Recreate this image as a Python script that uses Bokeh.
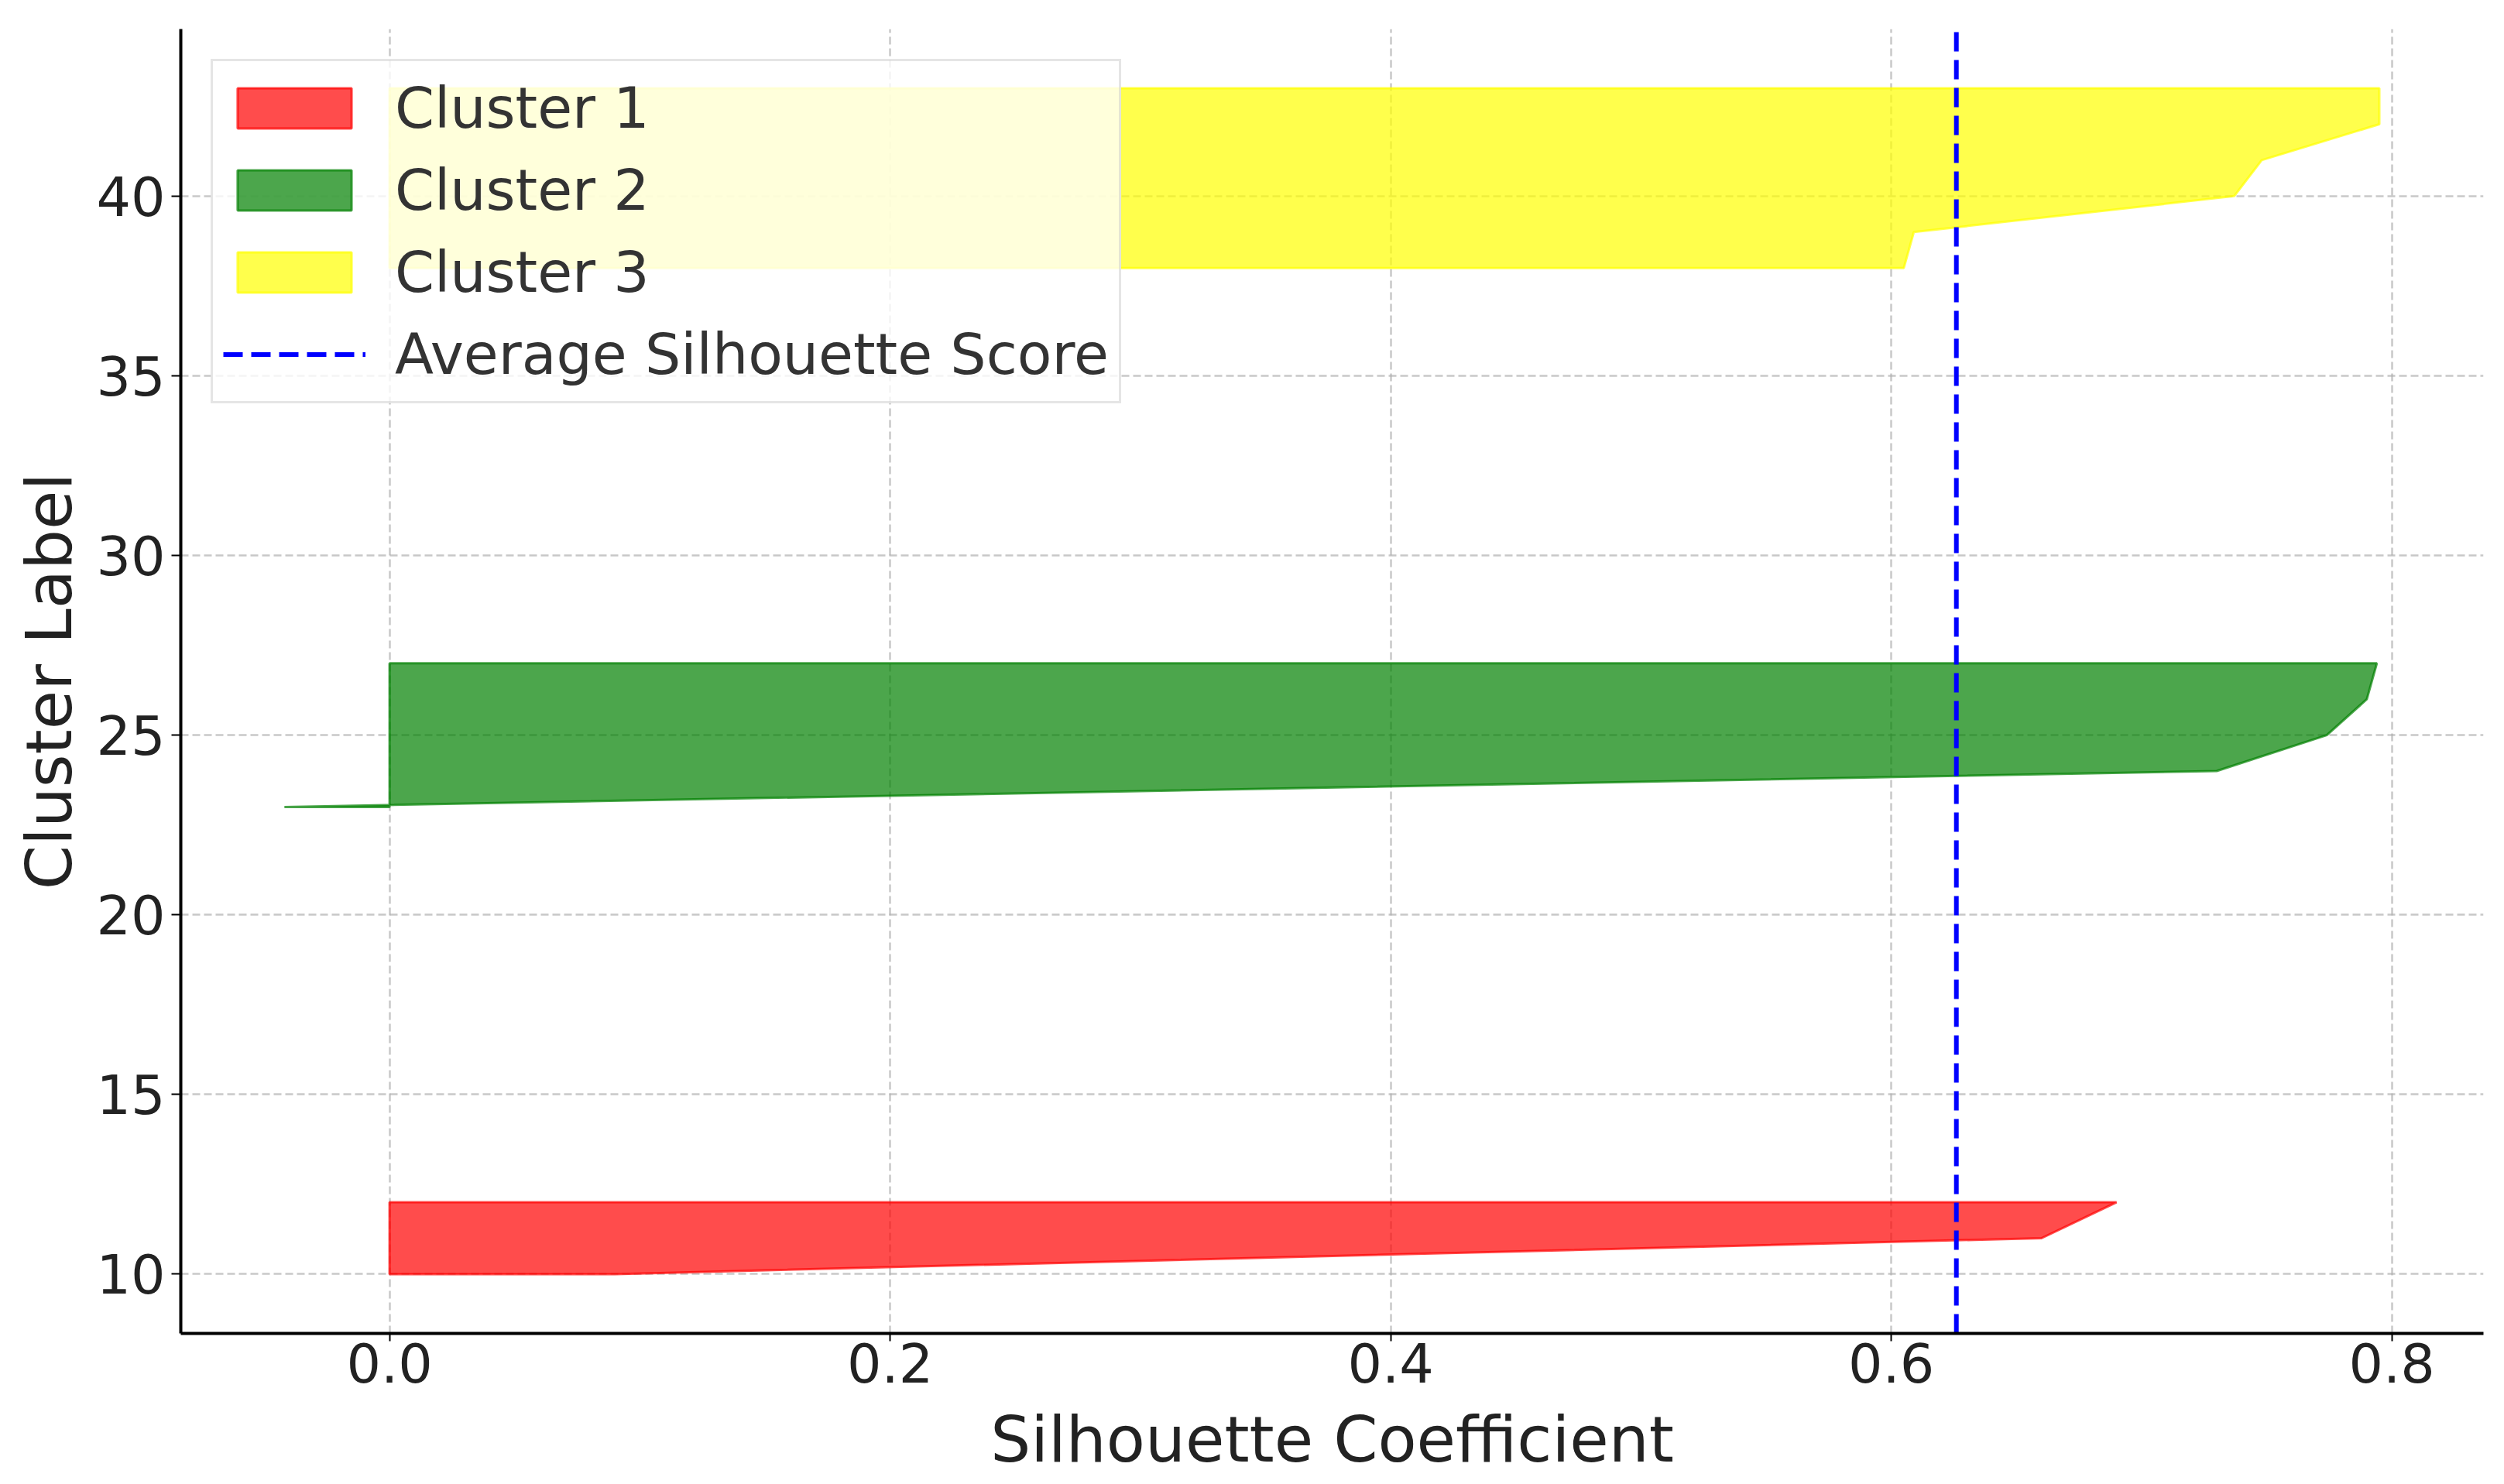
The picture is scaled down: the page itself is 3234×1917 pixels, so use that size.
from bokeh.plotting import figure
from bokeh.models import Range1d, FixedTicker, Legend, LegendItem, NumeralTickFormatter
from bokeh.embed import file_html
from bokeh.resources import INLINE

# ---- data ----
cluster_names = ["Cluster 1", "Cluster 2", "Cluster 3"]
cluster_colors = ["red", "green", "yellow"]
cluster1_y = [10, 11, 12]
cluster1_s = [0.09, 0.66, 0.69]
cluster2_y = [23, 24, 25, 26, 27]
cluster2_s = [-0.042, 0.730, 0.774, 0.790, 0.794]
cluster3_y = [38, 39, 40, 41, 42, 43]
cluster3_s = [0.605, 0.609, 0.737, 0.748, 0.795, 0.795]
avg_score = 0.626
x_ticks = [0.0, 0.2, 0.4, 0.6, 0.8]
y_ticks = [10, 15, 20, 25, 30, 35, 40]
x_label = "Silhouette Coefficient"
y_label = "Cluster Label"
avg_label = "Average Silhouette Score"

FONT = "DejaVu Sans"
x_lo, x_hi = -0.0834, 0.8366
y_lo, y_hi = 8.35, 44.65

p = figure(
    frame_width=2974, frame_height=1685,
    min_border_left=233, min_border_right=27, min_border_top=37, min_border_bottom=195,
    x_range=Range1d(x_lo, x_hi), y_range=Range1d(y_lo, y_hi),
    output_backend="svg", toolbar_location=None,
)
p.outline_line_color = None
p.background_fill_color = "white"

# axes
for ax in (p.xaxis[0], p.yaxis[0]):
    ax.axis_line_color = "black"
    ax.axis_line_width = 4
    ax.major_tick_line_color = "black"
    ax.major_tick_line_width = 2
    ax.major_tick_in = 0
    ax.minor_tick_line_color = None
    ax.major_label_text_font = FONT
    ax.major_label_text_font_size = "70px"
    ax.major_label_text_color = "#222222"
    ax.axis_label_text_font = FONT
    ax.axis_label_text_font_size = "82px"
    ax.axis_label_text_font_style = "normal"
    ax.axis_label_text_color = "#222222"

p.xaxis.ticker = FixedTicker(ticks=x_ticks)
p.xaxis.formatter = NumeralTickFormatter(format="0.0")
p.yaxis.ticker = FixedTicker(ticks=y_ticks)
p.xaxis.axis_label = x_label
p.yaxis.axis_label = y_label
p.xaxis.major_tick_out = 10
p.xaxis.major_label_standoff = 2
p.xaxis.axis_label_standoff = 23
p.yaxis.major_tick_out = 12
p.yaxis.major_label_standoff = 8
p.yaxis.axis_label_standoff = 10

for g in (p.xgrid[0], p.ygrid[0]):
    g.grid_line_color = "#b0b0b0"
    g.grid_line_alpha = 0.7
    g.grid_line_width = 2.5
    g.grid_line_dash = "10 5"

# silhouettes
renderers = []
for ys, ss, col in ((cluster1_y, cluster1_s, cluster_colors[0]),
                    (cluster2_y, cluster2_s, cluster_colors[1]),
                    (cluster3_y, cluster3_s, cluster_colors[2])):
    px = list(ss) + [0.0] * len(ys)
    py = list(ys) + list(reversed(ys))
    r = p.patch(px, py, fill_color=col, fill_alpha=0.7, line_color=col, line_alpha=0.7, line_width=3)
    renderers.append(r)

avg_r = p.line([avg_score, avg_score], [y_lo, y_hi], line_color="blue", line_width=6, line_dash="25 11")

legend = Legend(
    items=[LegendItem(label=n, renderers=[r]) for n, r in zip(cluster_names, renderers)]
    + [LegendItem(label=avg_label, renderers=[avg_r])],
    location="top_left",
    margin=39,
    padding=13,
    spacing=11,
    glyph_width=184,
    glyph_height=65,
    label_height=95,
    label_standoff=38,
    label_text_font=FONT,
    label_text_font_size="73px",
    label_text_color="#333333",
    background_fill_color="white",
    background_fill_alpha=0.8,
    border_line_color="#cccccc",
    border_line_width=3,
)
p.add_layout(legend)

open("out.html", "w").write(file_html(p, INLINE))
